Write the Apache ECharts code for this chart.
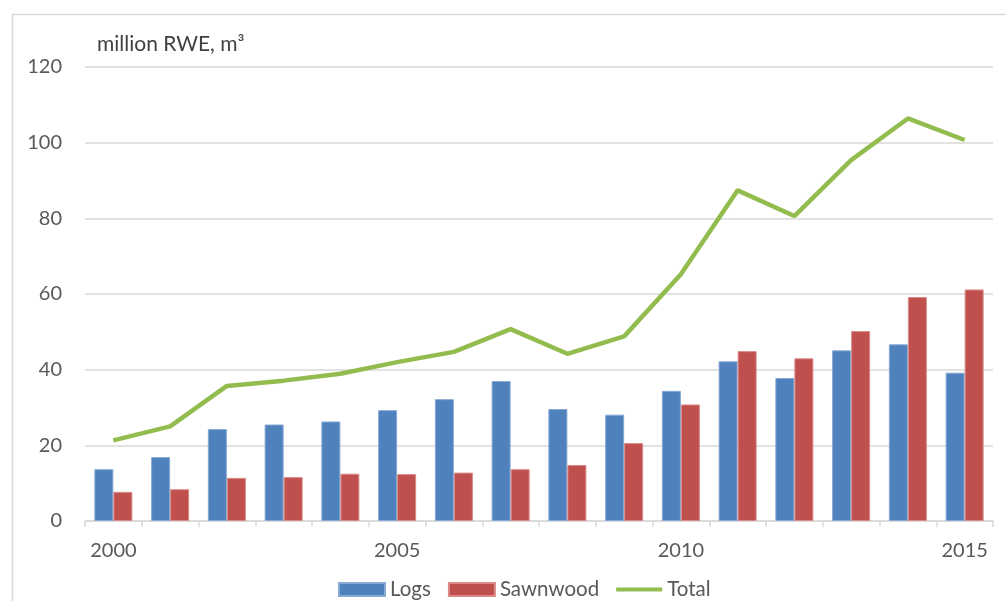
<!DOCTYPE html>
<html>
<head>
<meta charset="utf-8">
<script src="https://cdn.jsdelivr.net/npm/echarts@6/dist/echarts.min.js"></script>
<style>
  html, body { margin: 0; padding: 0; background: #fff; }
  #chart { width: 1006px; height: 601px; }
</style>
</head>
<body>
<div id="chart"></div>
<script>
// Years on the category axis
const years = ['2000','2001','2002','2003','2004','2005','2006','2007',
               '2008','2009','2010','2011','2012','2013','2014','2015'];
// Volumes, million m³ roundwood equivalent
const logs      = [13.7, 16.9, 24.3, 25.5, 26.3, 29.3, 32.2, 37.0,
                   29.6, 28.1, 34.4, 42.2, 37.8, 45.1, 46.7, 39.2];
const sawnwood  = [7.7, 8.4, 11.4, 11.6, 12.5, 12.4, 12.8, 13.7,
                   14.8, 20.6, 30.8, 44.9, 43.0, 50.2, 59.2, 61.2];
const total     = [21.3, 25.0, 35.7, 37.1, 38.9, 42.0, 44.7, 50.7,
                   44.2, 48.8, 65.2, 87.4, 80.6, 95.4, 106.4, 100.7];
const yTicks = { min: 0, max: 120, step: 20 };
const unitLabel = 'million RWE, m\u00B3';

const FONT = 'Lato, "Open Sans", sans-serif';
const TEXT = '#595959';
const GRID = '#d9d9d9';
const GREEN = '#93BC4F';

const chart = echarts.init(document.getElementById('chart'), null, { renderer: 'canvas' });
chart.setOption({
  animation: false,
  backgroundColor: '#ffffff',
  textStyle: { fontFamily: FONT },
  graphic: [
    { type: 'rect', left: 10, top: 12, silent: true,
      shape: { width: 1010, height: 600 },
      style: { fill: 'none', stroke: '#d9d9d9', lineWidth: 1.5 } },
    { type: 'text', left: 97, top: 34, silent: true,
      style: { text: unitLabel, font: '21px ' + FONT, fill: '#404040' } }
  ],
  grid: { left: 85, right: 13, top: 67, bottom: 80, containLabel: false },
  legend: {
    left: 333, top: 574,
    itemWidth: 46, itemHeight: 13, itemGap: 17,
    textStyle: { fontSize: 20.5, color: TEXT, fontFamily: FONT },
    data: [
      { name: 'Logs', icon: 'rect' },
      { name: 'Sawnwood', icon: 'rect' },
      { name: 'Total', icon: 'path://M0,0 H50 V4.5 H0 Z' }
    ]
  },
  xAxis: {
    type: 'category',
    data: years,
    boundaryGap: true,
    axisLine: { lineStyle: { color: GRID, width: 1.5 } },
    axisTick: { show: true, interval: 0, length: 6, lineStyle: { color: GRID, width: 1.5 } },
    axisLabel: {
      interval: function (i) { return i % 5 === 0; },
      color: TEXT, fontSize: 20, margin: 20, fontFamily: FONT
    },
    splitLine: { show: false }
  },
  yAxis: {
    type: 'value',
    min: yTicks.min, max: yTicks.max, interval: yTicks.step,
    axisLine: { show: false },
    axisTick: { show: false },
    axisLabel: { color: TEXT, fontSize: 20, margin: 23, fontFamily: FONT },
    splitLine: { lineStyle: { color: GRID, width: 1.5 } }
  },
  series: [
    {
      name: 'Logs', type: 'bar', data: logs,
      barGap: '0%', barCategoryGap: '33%',
      itemStyle: { color: '#4F81BD', borderColor: '#86A9D6', borderWidth: 1 }
    },
    {
      name: 'Sawnwood', type: 'bar', data: sawnwood,
      barGap: '0%', barCategoryGap: '33%',
      itemStyle: { color: '#C0504D', borderColor: '#D98A88', borderWidth: 1 }
    },
    {
      name: 'Total', type: 'line', data: total,
      symbol: 'none', showSymbol: false,
      lineStyle: { color: GREEN, width: 4.5 },
      itemStyle: { color: GREEN }
    }
  ]
});
</script>
</body>
</html>
